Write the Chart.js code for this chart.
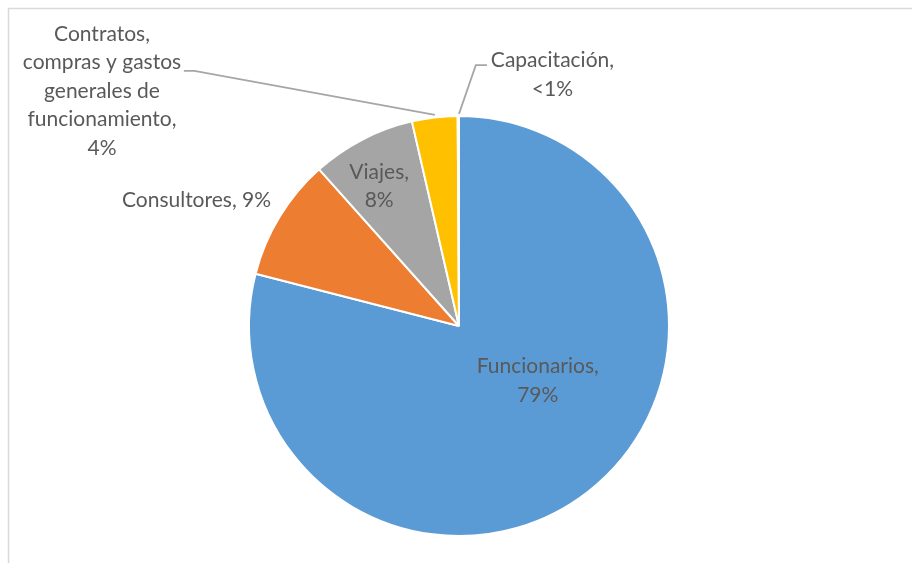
<!DOCTYPE html>
<html>
<head>
<meta charset="utf-8">
<script src="https://cdn.jsdelivr.net/npm/chart.js@4/dist/chart.umd.min.js"></script>
<style>
    html, body { margin: 0; padding: 0; background: #fff; }
    #wrap { width: 912px; height: 563px; }
</style>
</head>
<body>
<div id="wrap"><canvas id="pieChart" width="912" height="563"></canvas></div>
<script>
// Budget split by category (percent of total)
const categories = ['Funcionarios', 'Consultores', 'Viajes', 'Contratos, compras y gastos generales de funcionamiento', 'Capacitación'];
const shares = [79, 9.4, 8, 3.5, 0.1];
const sliceColors = ['#5b9bd5', '#ed7d31', '#a5a5a5', '#ffc000', '#4472c4'];

// Label text lines for each slice (value line added from the data)
const labelLines = [
    ['Funcionarios,'],
    ['Consultores,'],
    ['Viajes,'],
    ['Contratos,', 'compras y gastos', 'generales de', 'funcionamiento,'],
    ['Capacitación,']
];

function pctText(v) {
    return v < 1 ? '<1%' : Math.round(v) + '%';
}

// Label placement, in units of the pie radius from its centre.
// inline: value printed after the name on one line.
// leader: polyline from the text to the slice edge (radius units too).
const placement = [
    { dx: 0.375, dy: 0.26 },
    { dx: -1.25, dy: -0.60, inline: true },
    { dx: -0.38, dy: -0.665 },
    { dx: -1.70, dy: -1.12, leader: [[-1.31, -1.215], [-1.26, -1.215], [-0.115, -1.005]] },
    { dx: 0.445, dy: -1.197, leader: [[0.133, -1.242], [0.08, -1.242], [0.0, -1.01]] }
];

const pieLabels = {
    id: 'pieLabels',
    beforeDraw(chart) {
        const ctx = chart.ctx;
        ctx.save();
        ctx.strokeStyle = '#d9d9d9';
        ctx.lineWidth = 1.5;
        ctx.beginPath();
        ctx.moveTo(8.5, 563);
        ctx.lineTo(8.5, 8.5);
        ctx.lineTo(912, 8.5);
        ctx.stroke();
        ctx.restore();
    },
    afterDatasetsDraw(chart) {
        const ctx = chart.ctx;
        const arc = chart.getDatasetMeta(0).data[0];
        const cx = arc.x, cy = arc.y, r = arc.outerRadius;
        const lineH = 28.5;
        ctx.save();
        ctx.font = '21px Lato, "Open Sans", sans-serif';
        ctx.fillStyle = '#595959';
        ctx.textAlign = 'center';
        ctx.textBaseline = 'middle';
        shares.forEach((v, i) => {
            const p = placement[i];
            let lines = labelLines[i].slice();
            if (p.inline) {
                lines[lines.length - 1] += ' ' + pctText(v);
            } else {
                lines.push(pctText(v));
            }
            const x = cx + p.dx * r;
            const y0 = cy + p.dy * r - (lines.length - 1) * lineH / 2;
            lines.forEach((t, k) => ctx.fillText(t, x, y0 + k * lineH));

            if (p.leader) {
                ctx.strokeStyle = '#a6a6a6';
                ctx.lineWidth = 1.8;
                ctx.beginPath();
                p.leader.forEach(([lx, ly], k) => {
                    const px = cx + lx * r, py = cy + ly * r;
                    if (k === 0) ctx.moveTo(px, py); else ctx.lineTo(px, py);
                });
                ctx.stroke();
            }
        });
        ctx.restore();
    }
};

new Chart(document.getElementById('pieChart'), {
    type: 'pie',
    data: {
        labels: categories,
        datasets: [{
            data: shares,
            backgroundColor: sliceColors,
            borderColor: '#ffffff',
            borderWidth: 2
        }]
    },
    options: {
        responsive: false,
        animation: false,
        layout: {
            padding: { left: 248, right: 242, top: 115, bottom: 26 }
        },
        plugins: {
            legend: { display: false },
            tooltip: { enabled: false }
        }
    },
    plugins: [pieLabels]
});
</script>
</body>
</html>
